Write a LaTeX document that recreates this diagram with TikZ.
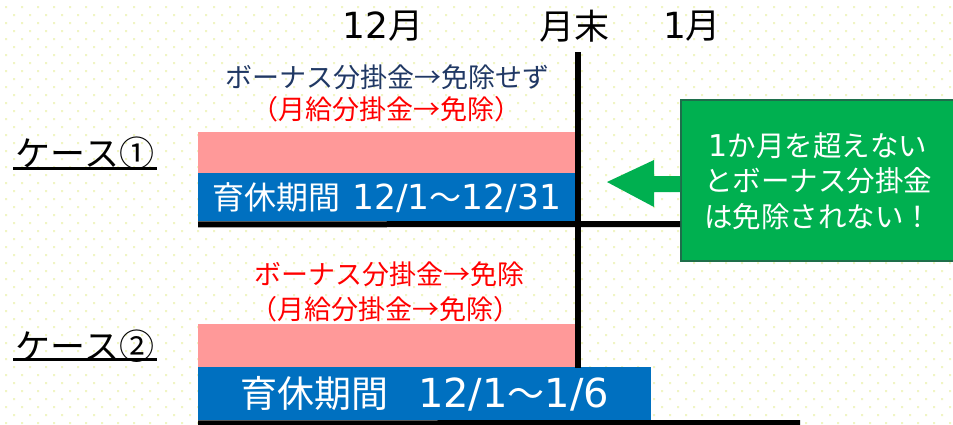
\documentclass[tikz,border=0pt]{standalone}
\usepackage{fontspec}
\setmainfont{Noto Sans CJK JP}
\newfontfamily\latinf{DejaVu Sans}
\definecolor{dotc}{RGB}{240,245,195}
\definecolor{pinkc}{RGB}{255,153,153}
\definecolor{bluec}{RGB}{0,112,192}
\definecolor{navyc}{RGB}{32,56,100}
\definecolor{greenc}{RGB}{0,176,80}
\definecolor{dgreenc}{RGB}{30,110,75}
\newcommand{\fsz}[1]{\fontsize{#1pt}{#1pt}\selectfont}
\newcommand{\lat}[2]{{\latinf\fsz{#1}#2}}
\tikzset{
  lbl/.style={inner sep=0pt, anchor=center},
  barp/.style={fill=pinkc, draw=none, inner sep=0pt, anchor=north west},
  barb/.style={fill=bluec, draw=none, inner sep=0pt, anchor=north west, text=white},
  thick line/.style={line width=6pt},
  gbox/.style={fill=greenc, draw=dgreenc, line width=2pt, inner sep=0pt, anchor=north west, text=white, align=center},
}
\begin{document}
\begin{tikzpicture}[x=1pt, y=-1pt]
\useasboundingbox (0,0) rectangle (953,424);
\fill[white] (0,0) rectangle (953,424);
% dotted background
\fill[dotc] \foreach \y in {6,22,...,422} { \foreach \x in {5,21,...,949} { (\x,\y) rectangle ++(2.2,2.2) } };
\fill[dotc] \foreach \y in {14,30,...,422} { \foreach \x in {13,29,...,949} { (\x,\y) rectangle ++(2.2,2.2) } };

% month labels
\node[lbl, font=\fsz{35}] (m12) at (383,26) {\lat{36}{12}月};
\node[lbl, font=\fsz{35}] (me) at (574,26) {月末};
\node[lbl, font=\fsz{35}] (m1) at (692,26) {\lat{36}{1}月};

% case 1
\node[lbl, font=\fsz{27}, text=navyc] (t1a) at (387,77) {ボーナス分掛金→免除せず};
\node[lbl, font=\fsz{27}, text=red] (t1b) at (386,109) {（月給分掛金→免除）};
\node[barp, minimum width=377pt, minimum height=41pt] (p1) at (198,132) {};
\node[barb, minimum width=377pt, minimum height=48pt, font=\fsz{32}] (b1) at (198,173) {育休期間\hspace{12pt}\lat{34.5}{12/1}～\lat{34.5}{12/31}};
\node[lbl, font=\fsz{35}] (c1) at (85,153) {ケース①};
\draw[line width=3pt] (13,168.5) -- (157,168.5);

% case 2
\node[lbl, font=\fsz{27}, text=red] (t2a) at (389,274) {ボーナス分掛金→免除};
\node[lbl, font=\fsz{27}, text=red] (t2b) at (385,309) {（月給分掛金→免除）};
\node[barp, minimum width=382pt, minimum height=43pt] (p2) at (198,324) {};
\node[barb, minimum width=453pt, minimum height=53pt, font=\fsz{37}] (b2) at (198,367) {育休期間\hspace{30pt}\lat{40}{12/1}～\lat{40}{1/6}};
\node[lbl, font=\fsz{35}] (c2) at (85,346) {ケース②};
\draw[line width=3pt] (13,359.5) -- (157,359.5);

% green box
\node[gbox, minimum width=278pt, minimum height=161pt] (box) at (680,99) {};
\node[lbl, align=center, font={\fontsize{28.5pt}{35.5pt}\selectfont}, text=white] (msg) at (818,181) {\lat{30}{1}か月を超えない\\とボーナス分掛金\\は免除されない！};

% lines
\coordinate (vtop) at (578,52);
\coordinate (vbot) at (578,368);
\draw[line width=5.5pt] (vtop) -- (vbot);
\draw[thick line] (b1.south west) ++(0,3) -- (box.west |- 0,224);
\draw[thick line] (b2.south west) ++(0,3) -- (800,423);

% arrow
\fill[greenc] (box.west |- 0,176) -- (654,176) -- (654,160) -- (607,182) -- (654,207) -- (654,192) -- (box.west |- 0,192) -- cycle;
\end{tikzpicture}
\end{document}
